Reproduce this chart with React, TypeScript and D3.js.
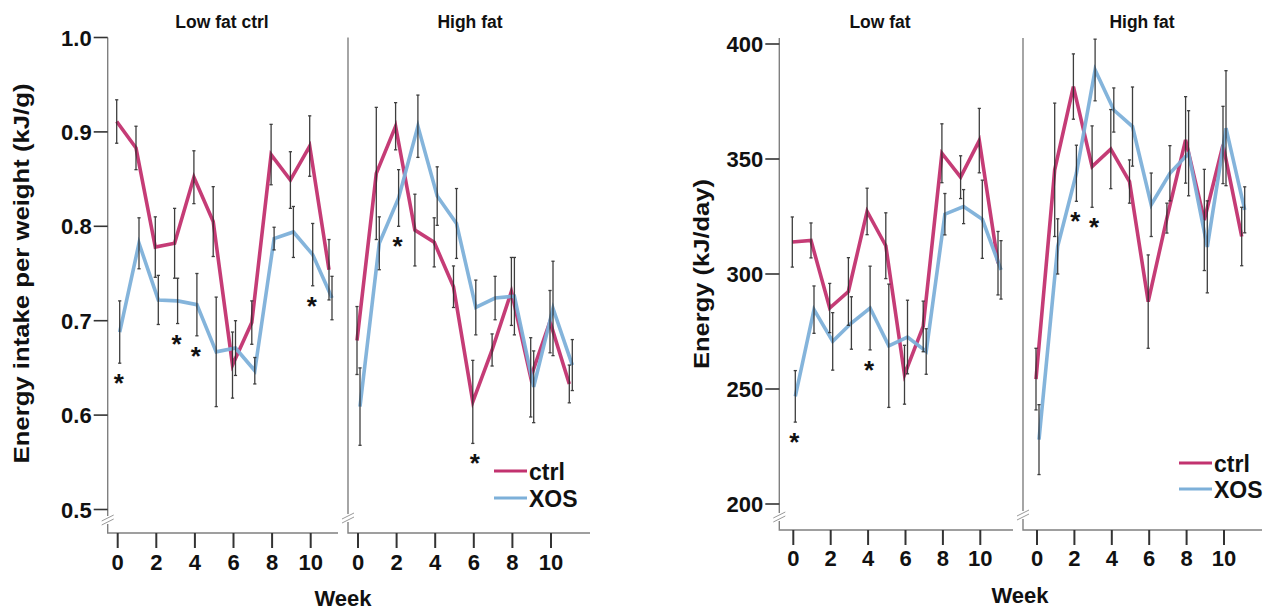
import React from "react";
import * as d3 from "d3";

// ---------- DATA ----------
const weeks = [0, 1, 2, 3, 4, 5, 6, 7, 8, 9, 10, 11];
const xTickWeeks = [0, 2, 4, 6, 8, 10];
const seriesNames = ["ctrl", "XOS"];

// Chart A: Energy intake per weight (kJ/g)
const aTicks = [0.5, 0.6, 0.7, 0.8, 0.9, 1.0];
const aLowCtrl = [0.911, 0.883, 0.778, 0.782, 0.852, 0.805, 0.653, 0.698, 0.876, 0.849, 0.885, 0.754];
const aLowCtrlSE = [0.023, 0.023, 0.032, 0.037, 0.028, 0.037, 0.035, 0.023, 0.032, 0.03, 0.032, 0.032];
const aLowXos = [0.688, 0.782, 0.722, 0.721, 0.717, 0.667, 0.671, 0.647, 0.787, 0.794, 0.77, 0.724];
const aLowXosSE = [0.033, 0.027, 0.026, 0.024, 0.033, 0.058, 0.029, 0.014, 0.012, 0.027, 0.033, 0.023];
const aHighCtrl = [0.679, 0.856, 0.906, 0.796, 0.783, 0.736, 0.614, 0.669, 0.731, 0.64, 0.699, 0.633];
const aHighCtrlSE = [0.036, 0.07, 0.025, 0.038, 0.026, 0.022, 0.044, 0.017, 0.036, 0.042, 0.033, 0.02];
const aHighXos = [0.609, 0.782, 0.83, 0.906, 0.832, 0.803, 0.714, 0.724, 0.726, 0.63, 0.713, 0.653];
const aHighXosSE = [0.041, 0.028, 0.03, 0.033, 0.031, 0.037, 0.029, 0.023, 0.041, 0.038, 0.05, 0.027];
const aLowSig = [0, 3, 4, 10];
const aHighSig = [2, 6];

// Chart B: Energy (kJ/day)
const bTicks = [200, 250, 300, 350, 400];
const bLowCtrl = [313.9, 314.6, 285.2, 292.4, 327.2, 312.3, 256.2, 277.2, 352.5, 342.1, 358.0, 304.7];
const bLowCtrlSE = [10.9, 7.6, 10.7, 14.7, 10.1, 14.3, 12.8, 11, 12.8, 9.3, 14, 13.8];
const bLowXos = [246.8, 284.5, 270.7, 278.7, 285.2, 268.8, 272.6, 266.3, 326.0, 329.3, 323.8, 301.8];
const bLowXosSE = [11.2, 10.3, 12.5, 11.4, 18.2, 26.8, 16, 9.9, 9, 7.4, 17, 12.7];
const bHighCtrl = [254.3, 345.3, 381.5, 346.7, 354.3, 340.2, 288.0, 324.3, 358.3, 323.5, 356.1, 316.3];
const bHighCtrlSE = [13.4, 29, 14.2, 17.7, 17.2, 9.4, 20.3, 6.5, 18.8, 22, 16.8, 12.7];
const bHighXos = [228.0, 312.0, 343.8, 388.7, 371.3, 364.1, 330.1, 343.8, 352.5, 311.8, 363.4, 327.9];
const bHighXosSE = [15.2, 12, 12.2, 13.4, 9.6, 17.2, 13.8, 12, 18.5, 20, 25, 10];
const bLowSig = [0, 4];
const bHighSig = [2, 3];

// ---------- STYLE ----------
const FONT = "'Liberation Sans', Arial, Helvetica, sans-serif";
const CTRL = "#c2326f";
const XOS = "#7db0d9";
const AXIS = "#808080";
const TICK = "#333";
const ERR = "#2a2a2a";

type Series = { mean: number[]; se: number[]; color: string; dodge: number };

function SubPanel({
  x,
  y,
  series,
  sig,
}: {
  x: d3.ScaleLinear<number, number>;
  y: d3.ScaleLinear<number, number>;
  series: Series[];
  sig: number[];
}) {
  return (
    <g>
      {series.map((s, si) => {
        const line = d3
          .line<number>()
          .x((_, i) => x(weeks[i]) + s.dodge)
          .y((d) => y(d));
        return (
          <path
            key={"l" + si}
            d={line(s.mean) || ""}
            fill="none"
            stroke={s.color}
            strokeWidth={3.6}
            strokeLinejoin="miter"
            opacity={0.95}
          />
        );
      })}
      {series.map((s, si) => (
        <g key={"e" + si}>
          {s.mean.map((m, i) => {
            const cx = x(weeks[i]) + s.dodge;
            const y1 = y(m + s.se[i]);
            const y2 = y(m - s.se[i]);
            return (
              <g key={i} stroke={ERR} strokeWidth={1.3} opacity={0.9}>
                <line x1={cx} x2={cx} y1={y1} y2={y2} />
                <line x1={cx - 1.6} x2={cx + 1.6} y1={y1} y2={y1} />
                <line x1={cx - 1.6} x2={cx + 1.6} y1={y2} y2={y2} />
              </g>
            );
          })}
        </g>
      ))}
      {sig.map((w) => {
        const low = d3.max(series, (s) => y(s.mean[w] - s.se[w])) as number;
        const cx = x(w) + 1;
        return (
          <text
            key={"s" + w}
            x={cx}
            y={low + 15 + 14}
            textAnchor="middle"
            fontFamily={FONT}
            fontWeight="bold"
            fontSize={26}
            fill="#111"
          >
            *
          </text>
        );
      })}
    </g>
  );
}

function BreakMark({ cx, cy }: { cx: number; cy: number }) {
  return (
    <g>
      <rect x={cx - 3} y={cy - 4} width={6} height={8} fill="#fff" />
      <line x1={cx - 6} y1={cy + 1} x2={cx + 6} y2={cy - 5} stroke="#999" strokeWidth={1} />
      <line x1={cx - 6} y1={cy + 5} x2={cx + 6} y2={cy - 1} stroke="#999" strokeWidth={1} />
    </g>
  );
}

type ChartProps = {
  axisX: number;
  divX: number;
  endX: number;
  topY: number;
  baseY: number;
  breakY: number;
  weekOffset: number;
  weekStep: number;
  yDomain: [number, number];
  yRange: [number, number];
  ticks: number[];
  tickFmt: (v: number) => string;
  yLabel: string;
  yLabelX: number;
  yLabelLen: number;
  titles: [string, string];
  titleX: [number, number];
  lowData: Series[];
  highData: Series[];
  lowSig: number[];
  highSig: number[];
  legendX: number;
  legendY: number;
  legendGap: number;
  weekLabelX: number;
  weekLabelY: number;
  tickLabelY: number;
};

function Chart(p: ChartProps) {
  const y = d3.scaleLinear().domain(p.yDomain).range(p.yRange);
  const x0Low = p.axisX + p.weekOffset;
  const x0High = p.divX + p.weekOffset;
  const xLow = d3.scaleLinear().domain([0, 11]).range([x0Low, x0Low + 11 * p.weekStep]);
  const xHigh = d3.scaleLinear().domain([0, 11]).range([x0High, x0High + 11 * p.weekStep]);
  const lowEnd = p.divX - 10;
  const yMid = (p.yRange[0] + p.yRange[1]) / 2;
  return (
    <g>
      {/* titles */}
      <text x={p.titleX[0]} y={28} textAnchor="middle" fontFamily={FONT} fontWeight="bold" fontSize={17.5} fill="#111">
        {p.titles[0]}
      </text>
      <text x={p.titleX[1]} y={28} textAnchor="middle" fontFamily={FONT} fontWeight="bold" fontSize={17.5} fill="#111">
        {p.titles[1]}
      </text>
      {/* y axis */}
      <path d={`M${p.axisX},${p.topY}V${p.baseY}H${lowEnd}`} fill="none" stroke={AXIS} strokeWidth={1.4} />
      <path d={`M${p.divX},${p.topY}V${p.baseY}H${p.endX}`} fill="none" stroke={AXIS} strokeWidth={1.4} />
      <BreakMark cx={p.axisX} cy={p.breakY} />
      <BreakMark cx={p.divX} cy={p.breakY - 2} />
      {p.ticks.map((t) => (
        <g key={t}>
          <line x1={p.axisX - 14} x2={p.axisX} y1={y(t)} y2={y(t)} stroke={TICK} strokeWidth={1.6} />
          <text
            x={p.axisX - 16}
            y={y(t) + 8}
            textAnchor="end"
            fontFamily={FONT}
            fontWeight="bold"
            fontSize={22}
            fill="#111"
          >
            {p.tickFmt(t)}
          </text>
        </g>
      ))}
      <text
        transform={`translate(${p.yLabelX},${yMid}) rotate(-90)`}
        textAnchor="middle"
        dominantBaseline="central"
        fontFamily={FONT}
        fontWeight="bold"
        fontSize={22}
        textLength={p.yLabelLen}
        lengthAdjust="spacingAndGlyphs"
        fill="#111"
      >
        {p.yLabel}
      </text>
      {/* x ticks */}
      {[xLow, xHigh].map((xs, k) => (
        <g key={k}>
          {xTickWeeks.map((w) => (
            <g key={w}>
              <line x1={xs(w)} x2={xs(w)} y1={p.baseY} y2={p.baseY + 15} stroke={TICK} strokeWidth={2} />
              <text
                x={xs(w)}
                y={p.tickLabelY}
                textAnchor="middle"
                fontFamily={FONT}
                fontWeight="bold"
                fontSize={22}
                fill="#111"
              >
                {w}
              </text>
            </g>
          ))}
        </g>
      ))}
      <text x={p.weekLabelX} y={p.weekLabelY} textAnchor="middle" fontFamily={FONT} fontWeight="bold" fontSize={22} fill="#111">
        Week
      </text>
      {/* data */}
      <SubPanel x={xLow} y={y} series={p.lowData} sig={p.lowSig} />
      <SubPanel x={xHigh} y={y} series={p.highData} sig={p.highSig} />
      {/* legend */}
      {seriesNames.map((n, i) => (
        <g key={n}>
          <line
            x1={p.legendX}
            x2={p.legendX + 33}
            y1={p.legendY + i * p.legendGap}
            y2={p.legendY + i * p.legendGap}
            stroke={i === 0 ? CTRL : XOS}
            strokeWidth={3}
          />
          <text
            x={p.legendX + 35}
            y={p.legendY + i * p.legendGap + 8.5}
            fontFamily={FONT}
            fontWeight="bold"
            fontSize={23}
            fill="#111"
          >
            {n}
          </text>
        </g>
      ))}
    </g>
  );
}

export default function App() {
  return (
    <svg
      width={1274}
      height={610}
      viewBox="0 0 1274 610"
      style={{ position: "absolute", left: 0, top: 0, background: "#fff" }}
    >
      <rect width={1274} height={610} fill="#fff" />
      <Chart
        axisX={107.7}
        divX={348}
        endX={590}
        topY={37.5}
        baseY={533}
        breakY={520}
        weekOffset={10}
        weekStep={19.3}
        yDomain={[0.5, 1.0]}
        yRange={[509.5, 37.5]}
        ticks={aTicks}
        tickFmt={(v) => v.toFixed(1)}
        yLabel="Energy intake per weight (kJ/g)"
        yLabelX={21}
        yLabelLen={380}
        titles={["Low fat ctrl", "High fat"]}
        titleX={[222, 470]}
        lowData={[
          { mean: aLowCtrl, se: aLowCtrlSE, color: CTRL, dodge: -1 },
          { mean: aLowXos, se: aLowXosSE, color: XOS, dodge: 2 },
        ]}
        highData={[
          { mean: aHighCtrl, se: aHighCtrlSE, color: CTRL, dodge: -1 },
          { mean: aHighXos, se: aHighXosSE, color: XOS, dodge: 2 },
        ]}
        lowSig={aLowSig}
        highSig={aHighSig}
        legendX={494}
        legendY={471}
        legendGap={27}
        weekLabelX={343}
        weekLabelY={606}
        tickLabelY={570}
      />
      <Chart
        axisX={779.3}
        divX={1023}
        endX={1262}
        topY={38}
        baseY={530}
        breakY={517}
        weekOffset={14}
        weekStep={18.7}
        yDomain={[200, 400]}
        yRange={[504, 44]}
        ticks={bTicks}
        tickFmt={(v) => String(v)}
        yLabel="Energy (kJ/day)"
        yLabelX={701}
        yLabelLen={190}
        titles={["Low fat", "High fat"]}
        titleX={[880, 1142]}
        lowData={[
          { mean: bLowCtrl, se: bLowCtrlSE, color: CTRL, dodge: -1 },
          { mean: bLowXos, se: bLowXosSE, color: XOS, dodge: 2 },
        ]}
        highData={[
          { mean: bHighCtrl, se: bHighCtrlSE, color: CTRL, dodge: -1 },
          { mean: bHighXos, se: bHighXosSE, color: XOS, dodge: 2 },
        ]}
        lowSig={bLowSig}
        highSig={bHighSig}
        legendX={1179}
        legendY={463}
        legendGap={26}
        weekLabelX={1020}
        weekLabelY={603}
        tickLabelY={566}
      />
    </svg>
  );
}
